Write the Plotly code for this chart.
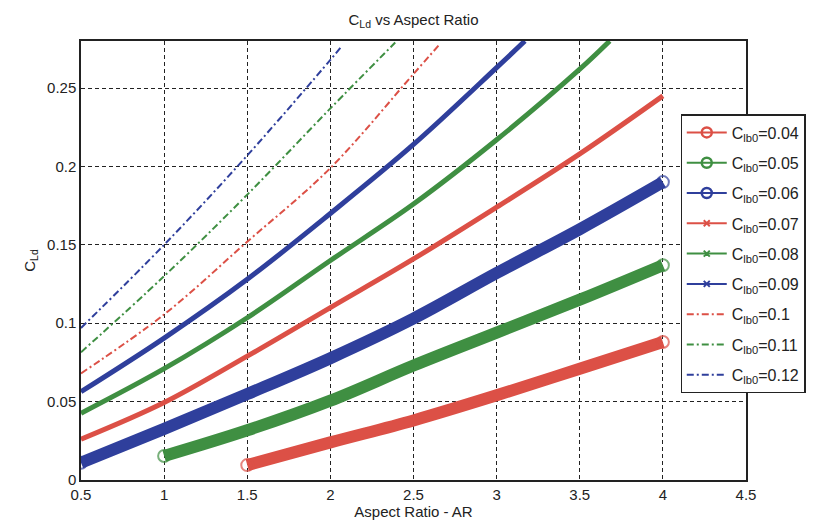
import plotly.graph_objects as go

# ---- data ----
x_004 = [1.5, 2.0, 2.5, 3.0, 3.5, 4.0]
y_004 = [0.0095, 0.024, 0.038, 0.054, 0.071, 0.088]

x_005 = [1.0, 1.5, 2.0, 2.5, 3.0, 3.5, 4.0]
y_005 = [0.0153, 0.0317, 0.0506, 0.073, 0.094, 0.115, 0.137]

x_006 = [0.5, 1.0, 1.5, 2.0, 2.5, 3.0, 3.5, 4.0]
y_006 = [0.011, 0.0326, 0.0548, 0.0777, 0.103, 0.132, 0.160, 0.190]

x_007 = [0.5, 1.0, 1.5, 2.0, 2.5, 3.0, 3.5, 4.0]
y_007 = [0.026, 0.0494, 0.079, 0.110, 0.141, 0.174, 0.208, 0.245]

x_008 = [0.5, 1.0, 1.5, 2.0, 2.5, 3.0, 3.5, 3.68]
y_008 = [0.0426, 0.071, 0.1035, 0.140, 0.176, 0.217, 0.262, 0.280]

x_009 = [0.5, 1.0, 1.5, 2.0, 2.5, 3.0, 3.17]
y_009 = [0.0563, 0.0905, 0.128, 0.170, 0.214, 0.263, 0.280]

x_010 = [0.5, 1.0, 1.5, 2.0, 2.5, 2.65]
y_010 = [0.068, 0.1056, 0.152, 0.199, 0.259, 0.277]

x_011 = [0.5, 1.0, 1.5, 2.0, 2.39]
y_011 = [0.0815, 0.130, 0.182, 0.237, 0.279]

x_012 = [0.5, 1.0, 1.5, 2.0, 2.07]
y_012 = [0.097, 0.150, 0.207, 0.268, 0.277]

labels = ["0.04", "0.05", "0.06", "0.07", "0.08", "0.09", "0.1", "0.11", "0.12"]

x_ticks = [0.5, 1, 1.5, 2, 2.5, 3, 3.5, 4, 4.5]
x_ticktext = ["0.5", "1", "1.5", "2", "2.5", "3", "3.5", "4", "4.5"]
y_ticks = [0, 0.05, 0.1, 0.15, 0.2, 0.25]
y_ticktext = ["0", "0.05", "0.1", "0.15", "0.2", "0.25"]

# ---- styles ----
RED = "#dc5046"
GREEN = "#3f8f42"
BLUE = "#2f3f9c"
FONT = "Liberation Sans, Arial, sans-serif"
DASHDOT = "7px,3px,2px,3px"

series = [
    (x_004, y_004, RED, "circle"),
    (x_005, y_005, GREEN, "circle"),
    (x_006, y_006, BLUE, "circle"),
    (x_007, y_007, RED, "x"),
    (x_008, y_008, GREEN, "x"),
    (x_009, y_009, BLUE, "x"),
    (x_010, y_010, RED, "dashdot"),
    (x_011, y_011, GREEN, "dashdot"),
    (x_012, y_012, BLUE, "dashdot"),
]

fig = go.Figure()

for (xs, ys, col, kind), lab in zip(series, labels):
    if kind == "circle":
        # open circles visible only at the two ends of the thick band
        sizes = [12] + [0] * (len(xs) - 2) + [12]
        fig.add_trace(go.Scatter(
            x=xs, y=ys, mode="lines+markers", showlegend=False,
            line=dict(color=col, width=12, shape="spline"),
            marker=dict(symbol="circle-open", size=sizes, color=col,
                        line=dict(width=2, color=col)),
            hoverinfo="skip"))
    elif kind == "x":
        fig.add_trace(go.Scatter(
            x=xs, y=ys, mode="lines", showlegend=False,
            line=dict(color=col, width=5, shape="spline"),
            hoverinfo="skip"))
    else:
        fig.add_trace(go.Scatter(
            x=xs, y=ys, mode="lines", showlegend=False,
            line=dict(color=col, width=2, dash=DASHDOT, shape="spline"),
            hoverinfo="skip"))

# legend entries (thin lines like the original legend)
for i, ((xs, ys, col, kind), lab) in enumerate(zip(series, labels)):
    name = "C<sub>lb0</sub>=" + lab
    if kind == "circle":
        fig.add_trace(go.Scatter(
            x=[None], y=[None], mode="lines+markers", name=name, legendgroup=f"g{i}",
            line=dict(color=col, width=2),
            marker=dict(symbol="circle-open", size=10, color=col, line=dict(width=2.5, color=col))))
    elif kind == "x":
        fig.add_trace(go.Scatter(
            x=[None], y=[None], mode="lines+markers", name=name, legendgroup=f"g{i}",
            line=dict(color=col, width=2),
            marker=dict(symbol="x-thin-open", size=6, color=col, line=dict(width=2, color=col))))
    else:
        fig.add_trace(go.Scatter(
            x=[None], y=[None], mode="lines", name=name, legendgroup=f"g{i}",
            line=dict(color=col, width=2, dash=DASHDOT)))

axis_common = dict(
    showline=True, linecolor="#222", linewidth=1.5, mirror=True,
    showgrid=True, gridcolor="#222", gridwidth=1, griddash="4px,3px",
    zeroline=False, ticks="", tickfont=dict(family=FONT, size=15, color="#222"),
)

fig.update_layout(
    width=818, height=529,
    margin=dict(l=81, r=66, t=41, b=45),
    paper_bgcolor="white", plot_bgcolor="white",
    font=dict(family=FONT, color="#222"),
    title=dict(text="C<sub>Ld</sub> vs Aspect Ratio", x=0.5, xref="paper",
               y=1 - 20 / 529, yref="container", yanchor="middle",
               font=dict(family=FONT, size=15, color="#222")),
    xaxis=dict(range=[0.5, 4.5], tickvals=x_ticks, ticktext=x_ticktext,
               title=dict(text="Aspect Ratio - AR", font=dict(family=FONT, size=15), standoff=4),
               **axis_common),
    yaxis=dict(range=[0, 0.28], tickvals=y_ticks, ticktext=y_ticktext,
               title=dict(text="C<sub>Ld</sub>", font=dict(family=FONT, size=15), standoff=8),
               **axis_common),
    legend=dict(x=0.9016, y=0.833, xanchor="left", yanchor="top",
                bgcolor="white", bordercolor="#222", borderwidth=1.2,
                font=dict(family=FONT, size=16, color="#222"),
                itemwidth=40, tracegroupgap=6.5),
    showlegend=True,
)

fig.write_html("out.html")
